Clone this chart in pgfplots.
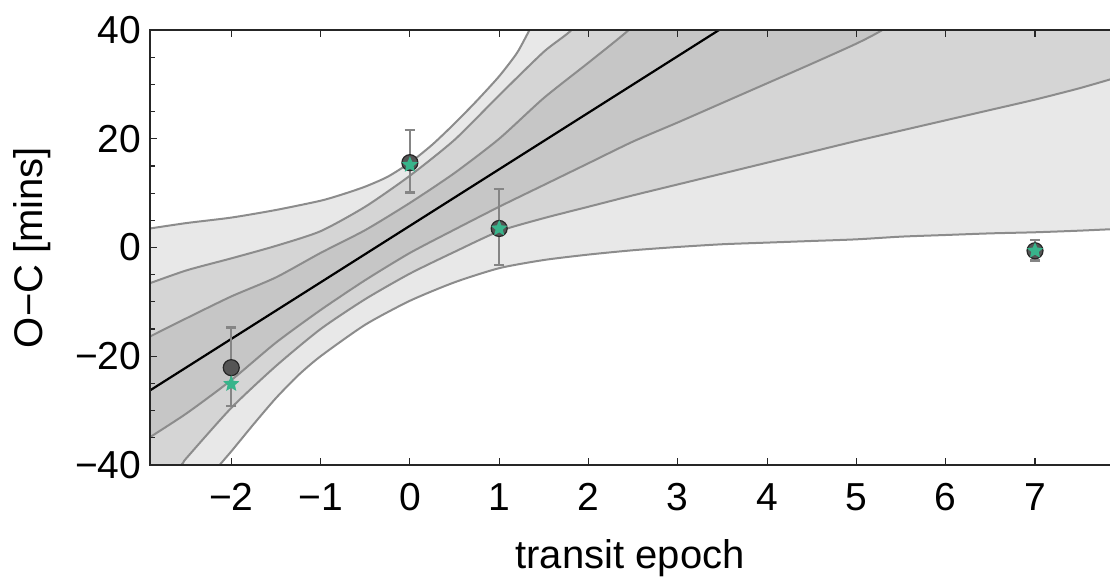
\documentclass[border=0pt]{standalone}
\usepackage{fontspec}
\setmainfont{Liberation Sans}
\usepackage{pgfplots}
\usepackage{pgfplotstable}
\pgfplotsset{compat=1.18}
\usepgfplotslibrary{fillbetween}

\definecolor{bandA}{HTML}{C6C6C6}
\definecolor{bandB}{HTML}{D5D5D5}
\definecolor{bandC}{HTML}{E8E8E8}
\definecolor{linec}{HTML}{8C8C8C}
\definecolor{errc}{HTML}{858585}
\definecolor{circc}{HTML}{555555}
\definecolor{starc}{HTML}{38B48B}
\definecolor{axisc}{HTML}{262626}

\pgfdeclareplotmark{fstar}{%
  \pgfpathmoveto{\pgfpointpolar{90}{\pgfplotmarksize}}%
  \pgfpathlineto{\pgfpointpolar{126}{0.45\pgfplotmarksize}}%
  \pgfpathlineto{\pgfpointpolar{162}{\pgfplotmarksize}}%
  \pgfpathlineto{\pgfpointpolar{198}{0.45\pgfplotmarksize}}%
  \pgfpathlineto{\pgfpointpolar{234}{\pgfplotmarksize}}%
  \pgfpathlineto{\pgfpointpolar{270}{0.45\pgfplotmarksize}}%
  \pgfpathlineto{\pgfpointpolar{306}{\pgfplotmarksize}}%
  \pgfpathlineto{\pgfpointpolar{342}{0.45\pgfplotmarksize}}%
  \pgfpathlineto{\pgfpointpolar{18}{\pgfplotmarksize}}%
  \pgfpathlineto{\pgfpointpolar{54}{0.45\pgfplotmarksize}}%
  \pgfpathclose
  \pgfusepathqfill
}

% band boundaries
\pgfplotstableread{
x y
-2.95 3.4
-2.5 4.5
-2.0 5.5
-1.5 6.9
-1.0 8.6
-0.75 9.8
-0.5 11.2
-0.25 13.0
0 15.6
0.25 18.9
0.5 22.8
0.75 27.0
1.0 31.5
1.2 35.8
1.34 40
1.5 44.5
1.7 50
7.9 50
}\uthree
\pgfplotstableread{
x y
-2.95 -6.8
-2.5 -4.2
-2.0 -2.0
-1.5 0.3
-1.0 3.0
-0.5 7.5
0 13.2
0.5 19.8
1.0 28.0
1.5 36.0
1.81 40
2.0 44.5
2.2 50
7.9 50
}\utwo
\pgfplotstableread{
x y
-2.95 -16.7
-2.5 -13.0
-2.0 -9.0
-1.5 -5.5
-1.0 -1.0
-0.5 3.2
0 8.2
0.5 13.7
1.0 20.0
1.5 27.5
2.0 34.0
2.45 40
2.7 44.5
2.95 50
7.9 50
}\uone
\pgfplotstableread{
x y
-2.95 -26.7
4.0 45.6
}\centre
\pgfplotstableread{
x y
-2.95 -35.3
-2.5 -30.5
-2.0 -24.4
-1.5 -17.5
-1.0 -11.5
-0.5 -6.0
0 -1.0
0.5 3.3
1.0 7.5
1.5 11.5
2.0 15.5
2.5 19.5
3.0 23.0
3.5 26.6
4.0 30.2
4.5 33.8
5.0 37.5
5.29 40
5.7 44.5
6.2 50
7.9 50
}\lone
\pgfplotstableread{
x y
-2.95 -47
-2.56 -40
-2.5 -38.7
-2.0 -29.5
-1.5 -21.8
-1.0 -15.0
-0.5 -9.5
0 -4.8
0.5 -0.8
1.0 3.0
1.5 5.4
2.0 7.5
2.5 9.6
3.0 11.6
3.5 13.6
4.0 15.6
4.5 17.6
5.0 19.6
5.5 21.5
6.0 23.4
6.5 25.3
7.0 27.2
7.5 29.3
7.9 31.2
}\ltwo
\pgfplotstableread{
x y
-2.95 -56
-2.13 -40
-2.0 -37.5
-1.75 -32.5
-1.5 -27.7
-1.25 -23.5
-1.0 -20.0
-0.5 -14.2
0 -9.8
0.5 -6.4
1.0 -3.8
1.5 -2.3
2.0 -1.3
2.5 -0.5
3.0 0.1
3.5 0.6
4.0 0.9
4.5 1.2
5.0 1.5
5.5 2.0
6.0 2.3
6.5 2.6
7.0 2.8
7.5 3.1
7.9 3.4
}\lthree
% observations
\pgfplotstableread{
x y ep em ys
-2 -22.1 7.4 7.0 -25.1
0 15.6 6.0 5.5 15.2
1 3.5 7.2 6.7 3.5
7 -0.6 2.0 1.8 -0.6
}\obs

\begin{document}
\begin{tikzpicture}
\begin{axis}[
  at={(0,0)}, anchor=south west,
  scale only axis, width=481pt, height=217.5pt,
  xmin=-2.91, xmax=7.862, ymin=-40, ymax=40,
  axis on top,
  axis line style={draw=axisc, line width=0.8pt},
  xtick pos=both, ytick pos=left,
  xtick={-2,-1,0,1,2,3,4,5,6,7},
  xticklabels={−2,−1,0,1,2,3,4,5,6,7},
  ytick={-40,-20,0,20,40},
  yticklabels={−40,−20,0,20,40},
  minor ytick={-35,-30,-25,-15,-10,-5,5,10,15,25,30,35},
  tick align=inside, major tick length=3.5pt, minor tick length=2.5pt,
  tick style={draw=axisc, line width=0.6pt},
  ticklabel style={font=\fontsize{19.5}{22}\selectfont},
  xticklabel style={inner sep=0pt, yshift=-9pt},
  yticklabel style={inner sep=0pt, xshift=-4.2pt},
  xlabel={transit epoch}, ylabel={O−C [mins]},
  every axis x label/.style={at={(axis description cs:0.4990,-0.2368)}, anchor=base, font=\fontsize{20}{24}\selectfont},
  every axis y label/.style={at={(axis description cs:-0.1227,0.5)}, anchor=center, rotate=90, font=\fontsize{20}{24}\selectfont},
  band/.style={linec, line width=1pt, smooth, tension=0.4},
  bandpath/.style={draw=none, smooth, tension=0.4},
]
\addplot[bandpath, name path=u3] table {\uthree};
\addplot[bandpath, name path=u2] table {\utwo};
\addplot[bandpath, name path=u1] table {\uone};
\addplot[bandpath, name path=l1] table {\lone};
\addplot[bandpath, name path=l2] table {\ltwo};
\addplot[bandpath, name path=l3] table {\lthree};
\addplot[fill=bandC, draw=none] fill between[of=u3 and l3];
\addplot[fill=bandB, draw=none] fill between[of=u2 and l2];
\addplot[fill=bandA, draw=none] fill between[of=u1 and l1];
\addplot[band] table {\uthree};
\addplot[band] table {\utwo};
\addplot[band] table {\uone};
\addplot[band] table {\lone};
\addplot[band] table {\ltwo};
\addplot[band] table {\lthree};
\addplot[black, line width=1.1pt] table {\centre};
\addplot[only marks, mark=none, draw=none,
  error bars/.cd, y dir=both, y explicit,
  error bar style={line width=1.1pt, color=errc},
  error mark options={rotate=90, mark size=2.6pt, line width=1.1pt, color=errc}]
  table[x=x, y=y, y error plus=ep, y error minus=em] {\obs};
\addplot[only marks, mark=*, mark size=4pt,
  mark options={fill=circc, draw=black!85, line width=0.6pt}]
  table[x=x, y=y] {\obs};
\addplot[only marks, mark=fstar, mark size=4.3pt,
  mark options={fill=starc, draw=none}]
  table[x=x, y=ys] {\obs};
\end{axis}
\pgfresetboundingbox
\path[use as bounding box] (-75pt,-56.5pt) rectangle (480pt,232.5pt);
\end{tikzpicture}
\end{document}
